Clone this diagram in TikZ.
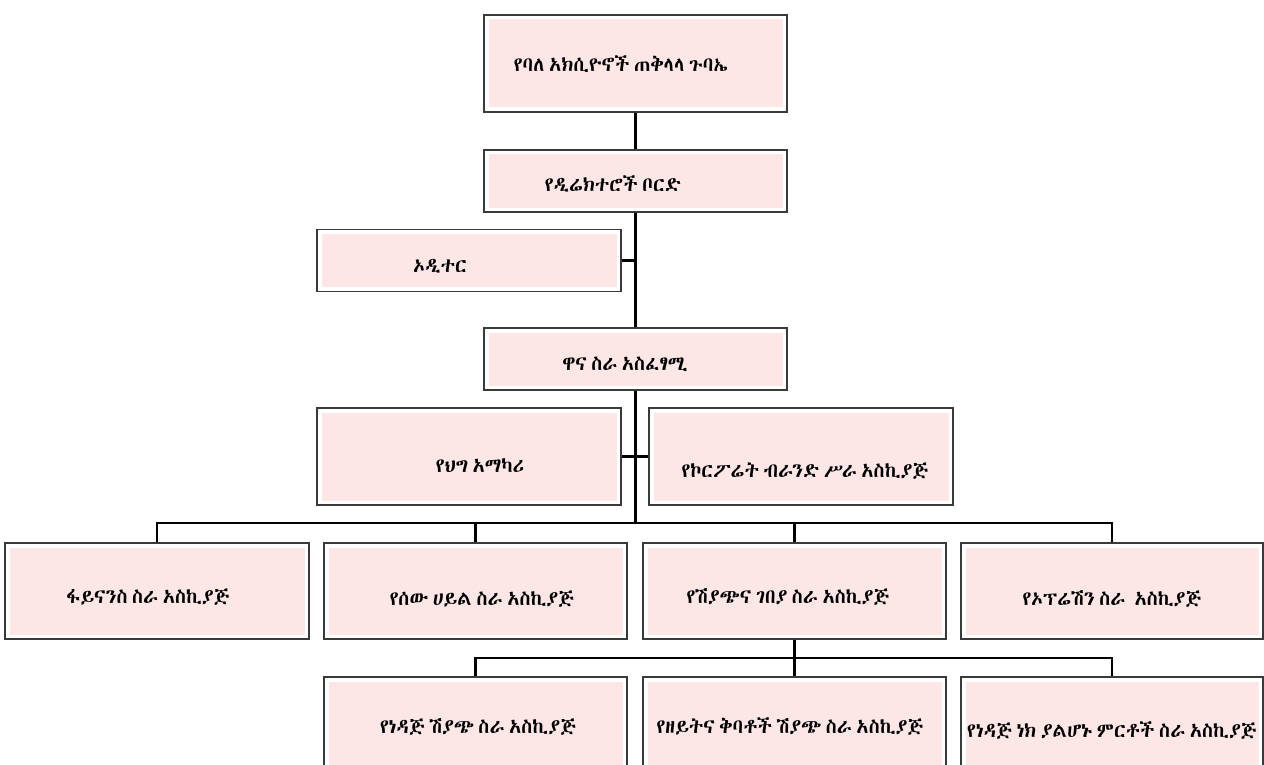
\documentclass[tikz,border=0pt]{standalone}
\usepackage{fontspec}
\IfFontExistsTF{Abyssinica SIL}
  {\newfontfamily\ethfont[WordSpace=0.5]{Abyssinica SIL}}
  {\IfFontExistsTF{FreeSerif}
    {\newfontfamily\ethfont[WordSpace=0.5]{FreeSerif}}
    {\IfFontExistsTF{FreeSans}
      {\newfontfamily\ethfont[WordSpace=0.5]{FreeSans}}
      {\newfontfamily\ethfont{DejaVu Sans}}}}
\definecolor{boxpink}{RGB}{253,230,230}
\definecolor{boxline}{RGB}{58,58,58}
\begin{document}
\begin{tikzpicture}[x=1pt, y=-1pt,
		orgbox/.style={rectangle, draw=boxline, line width=1.1pt, fill=white, inner sep=0pt,
			minimum width=303, minimum height=97,
			path picture={\fill[boxpink] ([shift={(4.5pt,-4.5pt)}]path picture bounding box.north west)
				rectangle ([shift={(-4.5pt,4.5pt)}]path picture bounding box.south east);}},
		flat/.style={orgbox, minimum height=62},
		lbl/.style={font=\ethfont\fontsize{20}{24}\selectfont, inner sep=0pt, anchor=base},
		link/.style={draw=black, line width=2.6pt}
		]
		\useasboundingbox (0,0) rectangle (1264,765);
		
		% ---- BOXES ----
		\node[orgbox] (gm) at (635.5, 63.5) {};
		\node[flat] (board) at (635.5, 181) {};
		\node[flat, minimum width=304] (audit) at (469, 260.5) {};
		\node[flat] (ceo) at (635.5, 359) {};
		
		\node[orgbox, minimum width=304] (legal) at (469, 456.5) {};
		\node[orgbox, minimum width=304] (brand) at (801, 456.5) {};
		
		\node[orgbox, minimum width=304, minimum height=96] (fin) at (157, 591) {};
		\node[orgbox, minimum height=96] (hr) at (475.5, 591) {};
		\node[orgbox, minimum height=96] (sales) at (794.5, 591) {};
		\node[orgbox, minimum width=302, minimum height=96] (ops) at (1112, 591) {};
		
		\node[orgbox, minimum height=96] (fuel) at (475.5, 725) {};
		\node[orgbox, minimum height=96] (lube) at (794.5, 725) {};
		\node[orgbox, minimum width=302, minimum height=96] (nonfuel) at (1112, 725) {};
		
		% ---- TEXTS ----
		\node[lbl] (gm-t) at (621, 72) {የባለ አክሲዮኖች ጠቅላላ ጉባኤ};
		\node[lbl] (board-t) at (613, 192) {የዲሬክተሮች ቦርድ};
		\node[lbl] (audit-t) at (440, 272) {ኦዲተር};
		\node[lbl] (ceo-t) at (625, 370) {ዋና ስራ አስፈፃሚ};
		\node[lbl] (legal-t) at (480, 472) {የህግ አማካሪ};
		\node[lbl] (brand-t) at (805, 477) {የኮርፖሬት ብራንድ ሥራ አስኪያጅ};
		\node[lbl] (fin-t) at (148, 603) {ፋይናንስ ስራ አስኪያጅ};
		\node[lbl] (hr-t) at (482, 605) {የሰው ሀይል ስራ አስኪያጅ};
		\node[lbl] (sales-t) at (788, 603) {የሽያጭና ገበያ ስራ አስኪያጅ};
		\node[lbl] (ops-t) at (1112, 605) {የኦፕሬሽን ስራ\ \ አስኪያጅ};
		\node[lbl] (fuel-t) at (478, 733) {የነዳጅ ሽያጭ ስራ አስኪያጅ};
		\node[lbl] (lube-t) at (790, 733) {የዘይትና ቅባቶች ሽያጭ ስራ አስኪያጅ};
		\node[lbl] (nonfuel-t) at (1112, 737) {የነዳጅ ነክ ያልሆኑ ምርቶች ስራ አስኪያጅ};
		
		% ---- JUNCTIONS ----
		\coordinate (bus) at (635.5, 523);
		\coordinate (bus2) at (794.5, 658);
		
		% ---- LINKS ----
		\path[link] (gm) -- (board);
		\path[link] (board) -- (ceo);
		\path[link] (audit.east) -- (audit.east -| board.south);
		\path[link] (legal.east) -- (legal.east -| ceo.south);
		\path[link] (brand.west) -- (brand.west -| ceo.south);
		\path[link] (ceo.south) -- (bus);
		\foreach \n in {fin, hr, sales, ops}
			\path[link] (\n.north) -- (\n.north |- bus) -- (bus);
		\path[link] (sales.south) -- (bus2);
		\foreach \n in {fuel, lube, nonfuel}
			\path[link] (\n.north) -- (\n.north |- bus2) -- (bus2);
		
	\end{tikzpicture}
\end{document}
